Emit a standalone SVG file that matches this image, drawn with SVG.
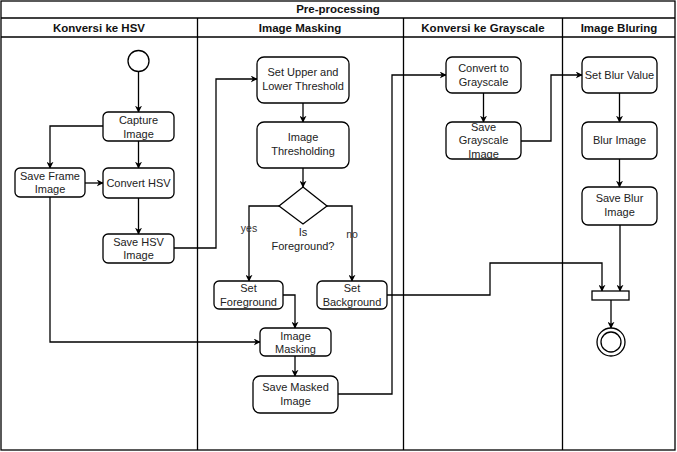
<svg xmlns="http://www.w3.org/2000/svg" width="677" height="452" viewBox="0 0 677 452">
<defs>
<marker id="arr" viewBox="0 0 10 10" refX="9" refY="5" markerWidth="7" markerHeight="7" orient="auto" markerUnits="userSpaceOnUse">
<path d="M0,0 L10,5 L0,10 L3,5 z" fill="#000"/>
</marker>
<style>
.frame{fill:#fff;stroke:#000;stroke-width:1.3}
.ln{fill:none;stroke:#000;stroke-width:1.3}
.hd{font-family:"Liberation Sans",Arial,sans-serif;font-size:11.5px;font-weight:bold;fill:#111;text-anchor:middle}
.node rect{fill:#fff;stroke:#000;stroke-width:1.3}
.tx{font-family:"Liberation Sans",Arial,sans-serif;font-size:11px;fill:#222;text-anchor:middle}
.c{fill:none;stroke:#000;stroke-width:1.3;marker-end:url(#arr)}
.lbl{font-family:"Liberation Sans",Arial,sans-serif;font-size:10.5px;fill:#333;text-anchor:middle}
</style>
</defs>
<rect width="677" height="452" fill="#fff"/>
<g id="pool">
<rect class="frame" x="1" y="1" width="674" height="449"/>
<line class="ln" x1="1" y1="18" x2="675" y2="18"/>
<line class="ln" x1="1" y1="37" x2="675" y2="37"/>
<line class="ln" x1="197.5" y1="18" x2="197.5" y2="450"/>
<line class="ln" x1="403.5" y1="18" x2="403.5" y2="450"/>
<line class="ln" x1="562.5" y1="18" x2="562.5" y2="450"/>
<text class="hd" x="338" y="13">Pre-processing</text>
<text class="hd" x="99" y="31.5">Konversi ke HSV</text>
<text class="hd" x="300" y="31.5">Image Masking</text>
<text class="hd" x="483" y="31.5">Konversi ke Grayscale</text>
<text class="hd" x="619" y="31.5">Image Bluring</text>
</g>
<g id="connectors">
<path class="c" d="M138.5,72 V112"/>
<path class="c" d="M103,126 H50 V168"/>
<path class="c" d="M138.5,141 V168"/>
<path class="c" d="M85,183 H103"/>
<path class="c" d="M138.5,198 V234"/>
<path class="c" d="M174,248 H216 V79 H257"/>
<path class="c" d="M50,197 V342 H260"/>
<path class="c" d="M303,103 V122"/>
<path class="c" d="M303,168 V187"/>
<path class="c" d="M279,206 H249 V281"/>
<path class="c" d="M327,206 H352 V281"/>
<path class="c" d="M283,295 H295 V328"/>
<path class="c" d="M295,356 V376"/>
<path class="c" d="M338,394 H392 V75 H446"/>
<path class="c" d="M483.5,93 V122"/>
<path class="c" d="M521,141 H551 V75 H582"/>
<path class="c" d="M619.5,93 V122"/>
<path class="c" d="M619.5,159 V187"/>
<path class="c" d="M620,225 V291"/>
<path class="c" d="M387,295 H490 V263 H602 V291"/>
<path class="c" d="M611,300 V328"/>
<text class="lbl" x="249" y="232">yes</text>
<text class="lbl" x="352" y="238">no</text>
</g>
<g id="start"><circle cx="138.5" cy="61" r="10.5" fill="#fff" stroke="#000" stroke-width="1.3"/></g>
<g id="capture" class="node"><rect x="103" y="112" width="71" height="29" rx="5"/><text class="tx" x="138.5" y="124">Capture</text><text class="tx" x="138.5" y="137.5">Image</text></g>
<g id="saveframe" class="node"><rect x="15" y="168" width="70" height="29" rx="5"/><text class="tx" x="50" y="179.5">Save Frame</text><text class="tx" x="50" y="193">Image</text></g>
<g id="converthsv" class="node"><rect x="103" y="168" width="71" height="30" rx="5"/><text class="tx" x="138.5" y="187">Convert HSV</text></g>
<g id="savehsv" class="node"><rect x="103" y="234" width="71" height="29" rx="5"/><text class="tx" x="138.5" y="245.5">Save HSV</text><text class="tx" x="138.5" y="259">Image</text></g>
<g id="setupper" class="node"><rect x="257" y="57" width="92" height="46" rx="7"/><text class="tx" x="303" y="76">Set Upper and</text><text class="tx" x="303" y="90">Lower Threshold</text></g>
<g id="thresholding" class="node"><rect x="257" y="122" width="92" height="46" rx="7"/><text class="tx" x="303" y="141">Image</text><text class="tx" x="303" y="155">Thresholding</text></g>
<g id="decision"><path d="M303,187 L327,206 L303,224 L279,206 Z" fill="#fff" stroke="#000" stroke-width="1.3"/><text class="tx" x="303" y="236">Is</text><text class="tx" x="303" y="249.5">Foreground?</text></g>
<g id="setfg" class="node"><rect x="214" y="281" width="69" height="28" rx="5"/><text class="tx" x="248.5" y="292">Set</text><text class="tx" x="248.5" y="305.5">Foreground</text></g>
<g id="setbg" class="node"><rect x="317" y="281" width="70" height="28" rx="5"/><text class="tx" x="352" y="292">Set</text><text class="tx" x="352" y="305.5">Background</text></g>
<g id="masking" class="node"><rect x="260" y="328" width="71" height="28" rx="5"/><text class="tx" x="295.5" y="339.5">Image</text><text class="tx" x="295.5" y="353">Masking</text></g>
<g id="savemasked" class="node"><rect x="253" y="376" width="85" height="37" rx="7"/><text class="tx" x="295.5" y="390.5">Save Masked</text><text class="tx" x="295.5" y="404.5">Image</text></g>
<g id="togray" class="node"><rect x="446" y="57" width="75" height="36" rx="6"/><text class="tx" x="483.5" y="72">Convert to</text><text class="tx" x="483.5" y="86">Grayscale</text></g>
<g id="savegray" class="node"><rect x="446" y="122" width="75" height="37" rx="6"/><text class="tx" x="483.5" y="131">Save</text><text class="tx" x="483.5" y="144">Grayscale</text><text class="tx" x="483.5" y="157.5">Image</text></g>
<g id="setblur" class="node"><rect x="582" y="57" width="75" height="36" rx="6"/><text class="tx" x="619.5" y="79">Set Blur Value</text></g>
<g id="blurimage" class="node"><rect x="582" y="122" width="75" height="37" rx="6"/><text class="tx" x="619.5" y="144">Blur Image</text></g>
<g id="saveblur" class="node"><rect x="582" y="187" width="75" height="38" rx="6"/><text class="tx" x="619.5" y="202">Save Blur</text><text class="tx" x="619.5" y="216">Image</text></g>
<g id="join"><rect x="592" y="291" width="37" height="9" fill="#fff" stroke="#000" stroke-width="1.3"/></g>
<g id="end"><circle cx="611" cy="342" r="14" fill="#fff" stroke="#000" stroke-width="1.3"/><circle cx="611" cy="342" r="10" fill="#fff" stroke="#000" stroke-width="1.3"/></g>
</svg>
